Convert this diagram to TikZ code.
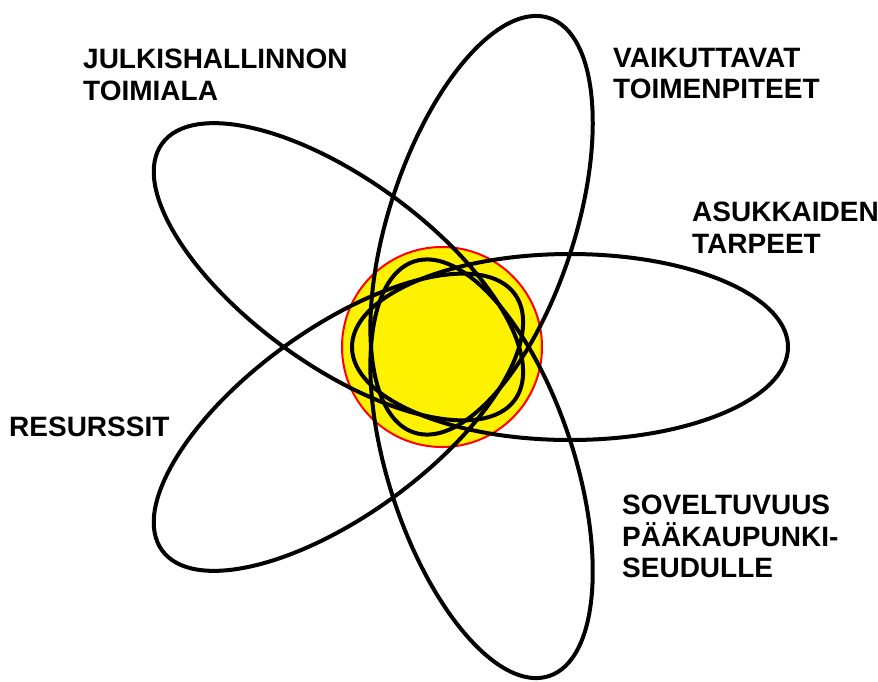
\documentclass[tikz,border=0pt]{standalone}
\usepackage{fontspec}
\setmainfont{Liberation Sans}
\usetikzlibrary{calc}
\begin{document}
\begin{tikzpicture}[x=1pt,y=-1pt,
  lbl/.style={anchor=north west, inner sep=0pt, align=left,
    font=\bfseries\fontsize{28}{31.5}\selectfont},
  orbit/.style={draw=black, line width=4pt},
  core/.style={circle, fill=yellow, draw=red, line width=2pt, minimum size=200pt, inner sep=0pt}]
\useasboundingbox (0,0) rectangle (878,681);
\node[core] (sun) at (442,347) {};
\foreach \k in {0,1,2,3,4}{
  \draw[orbit, rotate around={72*\k:(sun.center)}] ($(sun.center)+(128,0)$) ellipse [x radius=218, y radius=93];
}
\node[lbl] (julk) at (83,49) {JULKISHALLINNON\\TOIMIALA};
\node[lbl] (vaik) at (613,48) {VAIKUTTAVAT\\TOIMENPITEET};
\node[lbl] (asuk) at (692,202) {ASUKKAIDEN\\TARPEET};
\node[lbl] (resu) at (9,417) {RESURSSIT};
\node[lbl] (sove) at (622,495) {SOVELTUVUUS\\PÄÄKAUPUNKI-\\SEUDULLE};
\end{tikzpicture}
\end{document}
